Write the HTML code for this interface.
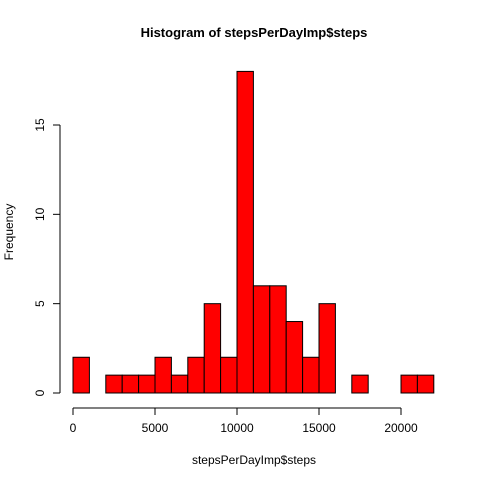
<!DOCTYPE html>
<html><head><style>body{margin:0;background:#fff}svg{display:block;font-family:"Liberation Sans",Arial,sans-serif}</style></head>
<body>
<svg id="chart" width="480" height="480">
<text x="254" y="37" text-anchor="middle" font-weight="bold" font-size="13">Histogram of stepsPerDayImp$steps</text>
<text x="254" y="464" text-anchor="middle" font-size="12">stepsPerDayImp$steps</text>
<text transform="translate(13,232) rotate(-90)" text-anchor="middle" font-size="12">Frequency</text>
<g id="bars"></g><g id="xaxis"></g><g id="yaxis"></g>
</svg>
<script>
const binStarts=[0,1000,2000,3000,4000,5000,6000,7000,8000,9000,10000,11000,12000,13000,14000,15000,16000,17000,18000,19000,20000,21000];
const counts=[2,0,1,1,1,2,1,2,5,2,18,6,6,4,2,5,0,1,0,0,1,1];
const binWidth=1000;
const xTicks=[0,5000,10000,15000,20000];
const yTicks=[0,5,10,15];
const xs=v=>73+v*(328/20000);
const ys=v=>393-v*(268/15);
const NS="http://www.w3.org/2000/svg";
function mk(t,a,p){const e=document.createElementNS(NS,t);for(const k in a)e.setAttribute(k,a[k]);p.appendChild(e);return e;}
const bars=document.getElementById('bars');
binStarts.forEach((b,i)=>{
 const x0=xs(b),x1=xs(b+binWidth),y=ys(counts[i]);
 const r=mk('rect',{x:x0,y:y,width:x1-x0,height:ys(0)-y,fill:counts[i]?'#ff0000':'none',stroke:'#000','stroke-width':1},bars);
 
 
});
const xa=document.getElementById('xaxis');
mk('line',{x1:xs(xTicks[0]),x2:xs(xTicks[xTicks.length-1]),y1:408,y2:408,stroke:'#000'},xa);
xTicks.forEach(t=>{mk('line',{x1:xs(t),x2:xs(t),y1:408,y2:415,stroke:'#000'},xa);
 const l=mk('text',{x:xs(t),y:432,'text-anchor':'middle','font-size':12},xa);l.textContent=t;
 
 });
const ya=document.getElementById('yaxis');
mk('line',{x1:60,x2:60,y1:ys(yTicks[0]),y2:ys(yTicks[yTicks.length-1]),stroke:'#000'},ya);
yTicks.forEach(t=>{mk('line',{x1:53,x2:60,y1:ys(t),y2:ys(t),stroke:'#000'},ya);
 const l=mk('text',{transform:`translate(44,${ys(t)}) rotate(-90)`,'text-anchor':'middle','font-size':12},ya);l.textContent=t;
 
 });
</script>
</body></html>
